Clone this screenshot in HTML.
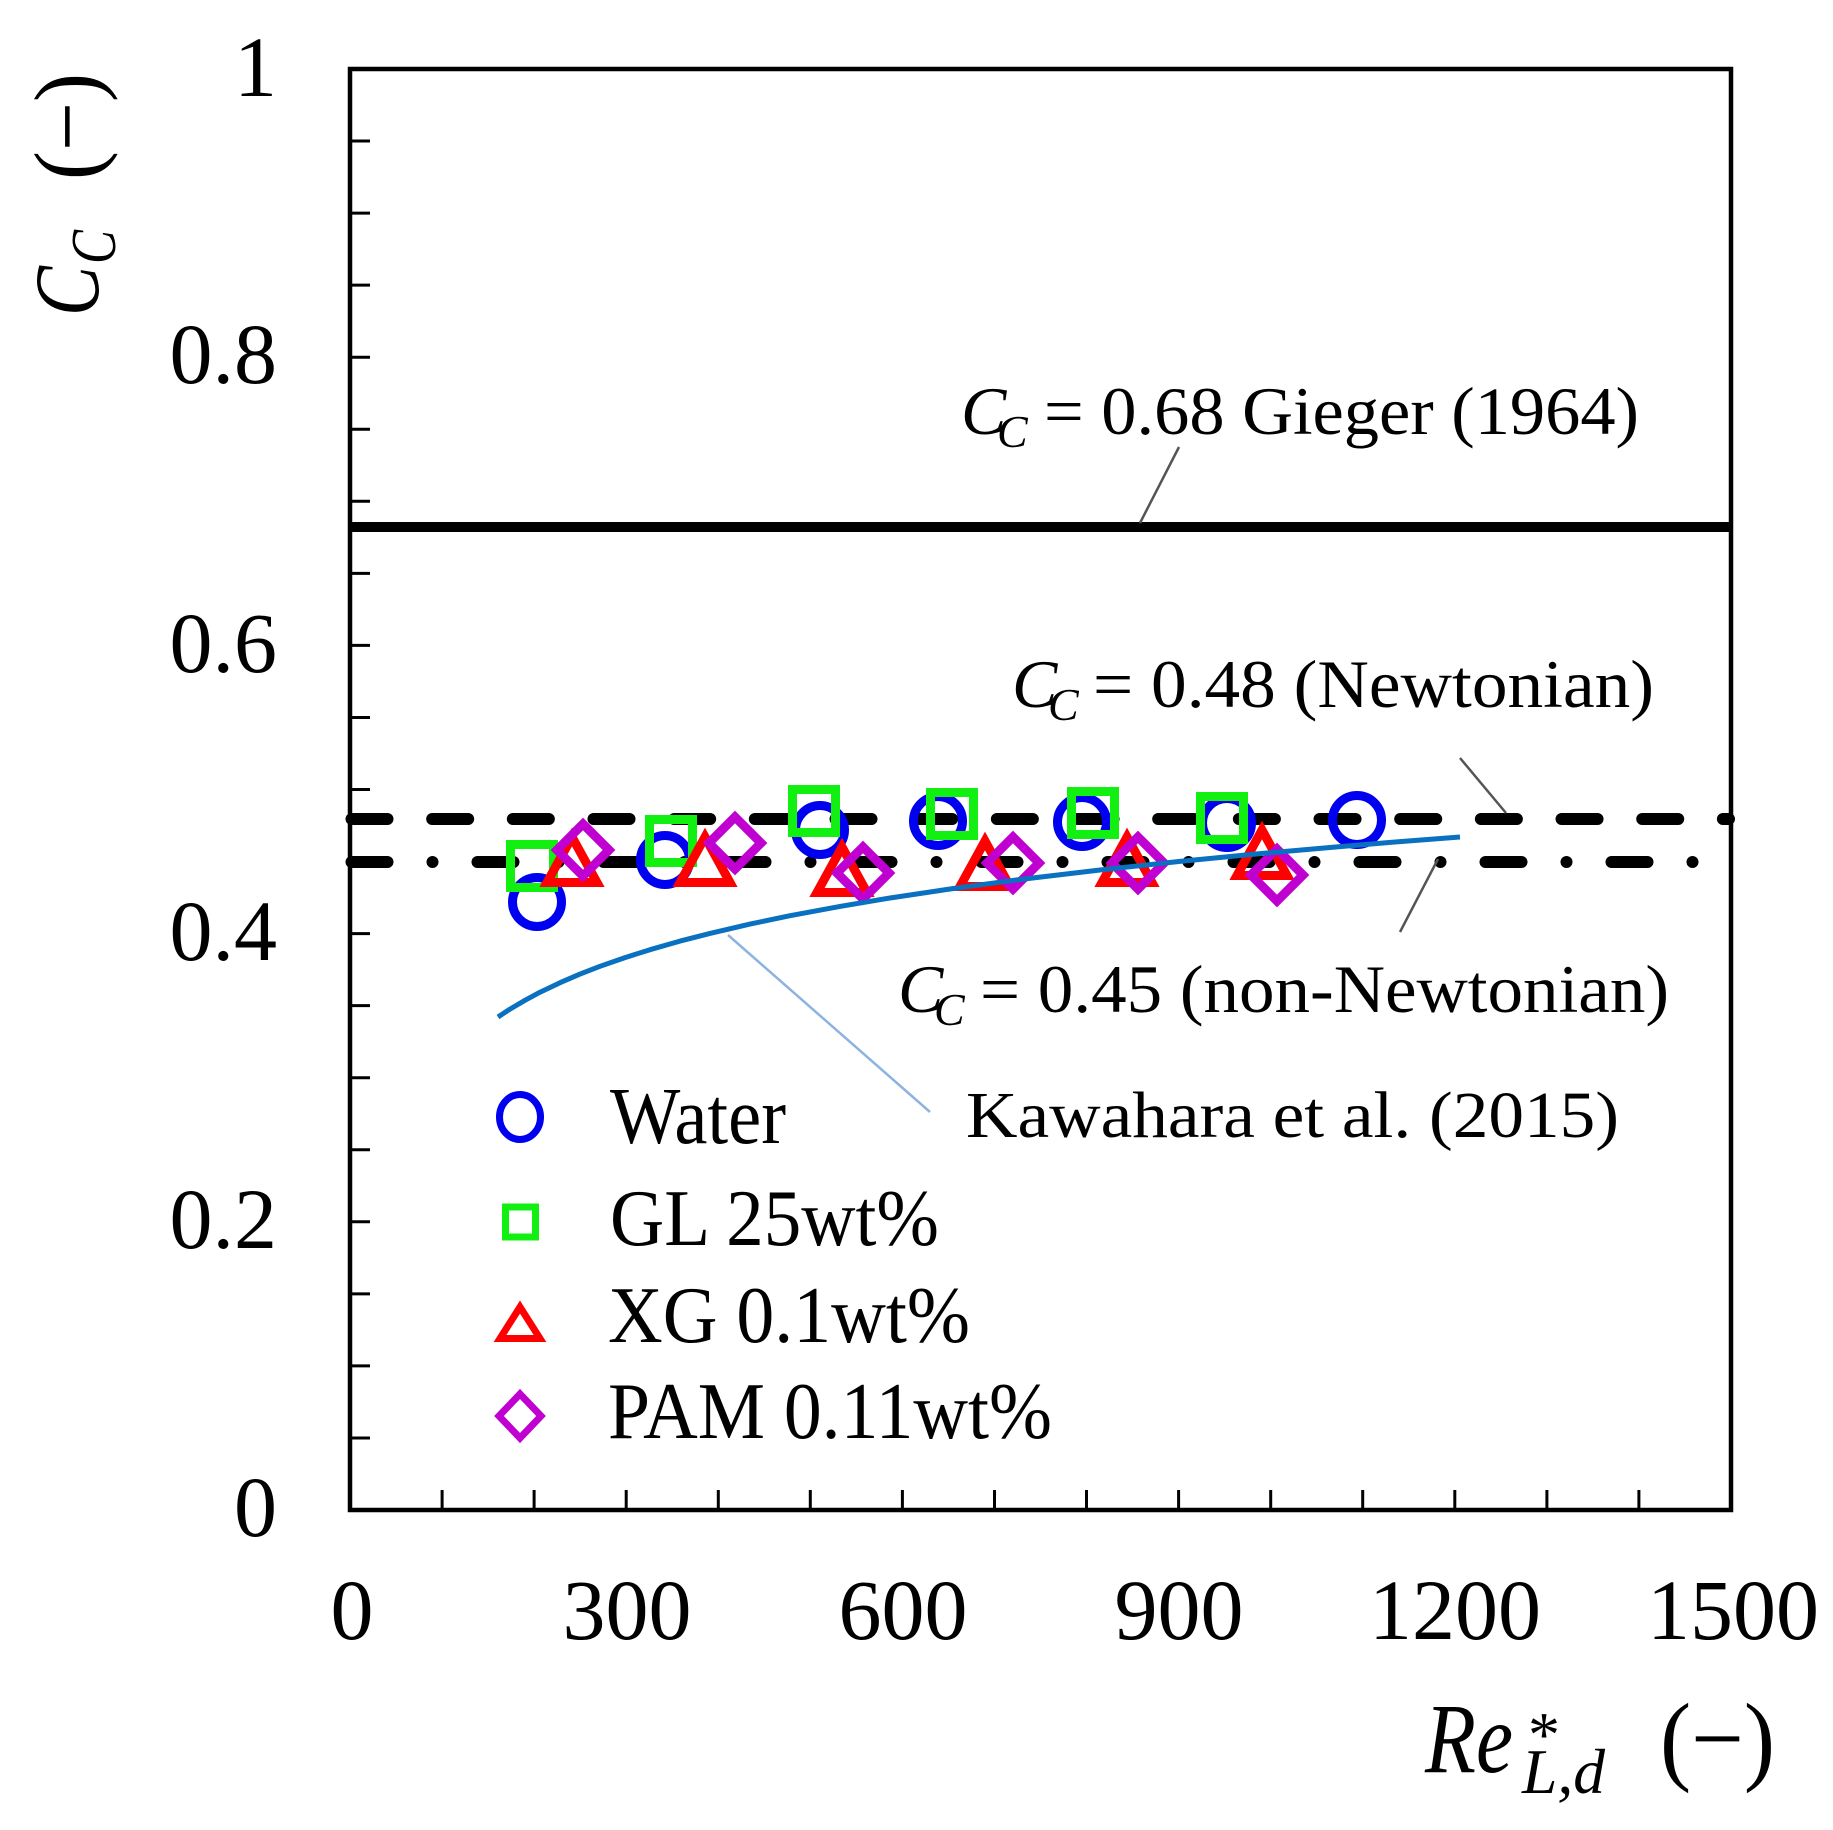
<!DOCTYPE html>
<html>
<head>
<meta charset="utf-8">
<style>
html,body{margin:0;padding:0;background:#fff;}
svg{display:block;}
text{font-family:"Liberation Serif","DejaVu Serif",serif;fill:#000;}
</style>
</head>
<body>
<svg width="1833" height="1830" viewBox="0 0 1833 1830" xmlns="http://www.w3.org/2000/svg">
<rect width="1833" height="1830" fill="#fff"/>

<!-- y ticks every 0.05 -->
<g stroke="#000" stroke-width="3">
<line x1="350" y1="1437.95" x2="370" y2="1437.95"/>
<line x1="350" y1="1365.9" x2="370" y2="1365.9"/>
<line x1="350" y1="1293.85" x2="370" y2="1293.85"/>
<line x1="350" y1="1221.8" x2="370" y2="1221.8"/>
<line x1="350" y1="1149.75" x2="370" y2="1149.75"/>
<line x1="350" y1="1077.7" x2="370" y2="1077.7"/>
<line x1="350" y1="1005.65" x2="370" y2="1005.65"/>
<line x1="350" y1="933.6" x2="370" y2="933.6"/>
<line x1="350" y1="861.55" x2="370" y2="861.55"/>
<line x1="350" y1="789.5" x2="370" y2="789.5"/>
<line x1="350" y1="717.45" x2="370" y2="717.45"/>
<line x1="350" y1="645.4" x2="370" y2="645.4"/>
<line x1="350" y1="573.35" x2="370" y2="573.35"/>
<line x1="350" y1="501.3" x2="370" y2="501.3"/>
<line x1="350" y1="429.25" x2="370" y2="429.25"/>
<line x1="350" y1="357.2" x2="370" y2="357.2"/>
<line x1="350" y1="285.15" x2="370" y2="285.15"/>
<line x1="350" y1="213.1" x2="370" y2="213.1"/>
<line x1="350" y1="141.05" x2="370" y2="141.05"/>
</g>
<!-- x ticks every 100 -->
<g stroke="#000" stroke-width="3">
<line x1="442.1" y1="1510" x2="442.1" y2="1490"/>
<line x1="534.1" y1="1510" x2="534.1" y2="1490"/>
<line x1="626.2" y1="1510" x2="626.2" y2="1490"/>
<line x1="718.3" y1="1510" x2="718.3" y2="1490"/>
<line x1="810.3" y1="1510" x2="810.3" y2="1490"/>
<line x1="902.4" y1="1510" x2="902.4" y2="1490"/>
<line x1="994.5" y1="1510" x2="994.5" y2="1490"/>
<line x1="1086.5" y1="1510" x2="1086.5" y2="1490"/>
<line x1="1178.6" y1="1510" x2="1178.6" y2="1490"/>
<line x1="1270.7" y1="1510" x2="1270.7" y2="1490"/>
<line x1="1362.7" y1="1510" x2="1362.7" y2="1490"/>
<line x1="1454.8" y1="1510" x2="1454.8" y2="1490"/>
<line x1="1546.9" y1="1510" x2="1546.9" y2="1490"/>
<line x1="1638.9" y1="1510" x2="1638.9" y2="1490"/>
</g>

<!-- frame -->
<rect x="350" y="69" width="1381" height="1441" fill="none" stroke="#000" stroke-width="4.5"/>

<!-- y tick labels -->
<g font-size="86" text-anchor="end">
<text x="277" y="1536">0</text>
<text x="277" y="1248">0.2</text>
<text x="277" y="960">0.4</text>
<text x="277" y="672">0.6</text>
<text x="277" y="383">0.8</text>
<text x="277" y="96">1</text>
</g>
<!-- x tick labels -->
<g font-size="86" text-anchor="middle">
<text x="352" y="1639">0</text>
<text x="627" y="1639">300</text>
<text x="903" y="1639">600</text>
<text x="1179" y="1639">900</text>
<text x="1455" y="1639">1200</text>
<text x="1733" y="1639">1500</text>
</g>

<!-- y axis title (rotated) -->
<g transform="translate(98,316) rotate(-90)">
<text x="0" y="0" font-size="92" font-style="italic" textLength="50" lengthAdjust="spacingAndGlyphs">C</text>
<text x="52" y="17" font-size="64" font-style="italic" textLength="34" lengthAdjust="spacingAndGlyphs">C</text>
<text x="136" y="0" font-size="92" textLength="107" lengthAdjust="spacingAndGlyphs">(−)</text>
</g>

<!-- x axis title -->
<text x="1425" y="1772" font-size="100" font-style="italic" textLength="88" lengthAdjust="spacingAndGlyphs">Re</text>
<text x="1528" y="1756" font-size="64">*</text>
<text x="1522" y="1793" font-size="64" font-style="italic" textLength="83" lengthAdjust="spacingAndGlyphs">L,d</text>
<text x="1660" y="1772" font-size="100" textLength="115" lengthAdjust="spacingAndGlyphs">(−)</text>

<!-- reference lines -->
<line x1="350" y1="527" x2="1731" y2="527" stroke="#000" stroke-width="10"/>
<line x1="351.5" y1="819" x2="1729" y2="819" stroke="#000" stroke-width="12" stroke-linecap="round" stroke-dasharray="36 44.67"/>
<line x1="351.5" y1="862" x2="1700.5" y2="862" stroke="#000" stroke-width="12" stroke-linecap="round" stroke-dasharray="36 45 0 45"/>

<!-- leader lines -->
<g stroke="#555" stroke-width="2.5" fill="none">
<line x1="1179" y1="447" x2="1140" y2="523"/>
<line x1="1460" y1="758" x2="1506" y2="813"/>
<line x1="1400" y1="932" x2="1438" y2="859"/>
</g>
<line x1="728" y1="935" x2="930" y2="1112" stroke="#8db3e2" stroke-width="2.5"/>

<!-- annotations -->
<text x="961" y="434" font-size="68" font-style="italic">C</text>
<text x="997" y="447" font-size="46" font-style="italic">C</text>
<text x="1044" y="434" font-size="68" textLength="595" lengthAdjust="spacingAndGlyphs">= 0.68 Gieger (1964)</text>

<text x="1012" y="707" font-size="68" font-style="italic">C</text>
<text x="1048" y="720" font-size="46" font-style="italic">C</text>
<text x="1093" y="707" font-size="68" textLength="561" lengthAdjust="spacingAndGlyphs">= 0.48 (Newtonian)</text>

<text x="898" y="1012" font-size="68" font-style="italic">C</text>
<text x="934" y="1025" font-size="46" font-style="italic">C</text>
<text x="980" y="1012" font-size="68" textLength="689" lengthAdjust="spacingAndGlyphs">= 0.45 (non-Newtonian)</text>

<text x="966" y="1137" font-size="66" textLength="653" lengthAdjust="spacingAndGlyphs">Kawahara et al. (2015)</text>

<!-- markers: Water -->
<g fill="none" stroke="#0000f0" stroke-width="9">
<circle cx="537" cy="902" r="24.5"/>
<circle cx="665" cy="860" r="24.5"/>
<circle cx="820" cy="830" r="24.5"/>
<circle cx="938" cy="821" r="24.5"/>
<circle cx="1082" cy="822" r="24.5"/>
<circle cx="1227" cy="823" r="24.5"/>
<circle cx="1357" cy="820" r="24.5"/>
</g>
<!-- GL -->
<g fill="none" stroke="#12f012" stroke-width="9">
<rect x="510.5" y="844.5" width="43" height="43"/>
<rect x="649.5" y="819.5" width="43" height="43"/>
<rect x="792.5" y="789.5" width="43" height="43"/>
<rect x="930.5" y="792.5" width="43" height="43"/>
<rect x="1071.5" y="791.5" width="43" height="43"/>
<rect x="1200.5" y="796.5" width="43" height="43"/>
</g>
<!-- XG -->
<g fill="none" stroke="#ff0000" stroke-width="9">
<polygon points="572,837 547,882.5 597,882.5"/>
<polygon points="705,837 680,882.5 730,882.5"/>
<polygon points="842,847 817,892.5 867,892.5"/>
<polygon points="985,841 960,886.5 1010,886.5"/>
<polygon points="1127,837 1102,882.5 1152,882.5"/>
<polygon points="1262,830 1237,875.5 1287,875.5"/>
</g>
<!-- PAM -->
<g fill="none" stroke="#c000d0" stroke-width="9">
<polygon points="583,824 609,850 583,876 557,850"/>
<polygon points="735,817 761,843 735,869 709,843"/>
<polygon points="863,847 889,873 863,899 837,873"/>
<polygon points="1013,837 1039,863 1013,889 987,863"/>
<polygon points="1138,837 1164,863 1138,889 1112,863"/>
<polygon points="1277,849 1303,875 1277,901 1251,875"/>
</g>

<!-- Kawahara curve -->
<polyline fill="none" stroke="#0a70c0" stroke-width="5" stroke-linejoin="round" stroke-linecap="butt"
 points="498,1017 510,1009.1 525,1000.3 540,992.2 560,982.7 580,974.1 600,966.3 625,957.6 650,949.7 680,941.1 710,933.4 750,924.1 790,915.7 840,906.4 890,898 950,889 1020,879.5 1100,870 1180,861.4 1260,853.6 1340,846.6 1400,841.6 1460,837"/>

<!-- legend -->
<ellipse cx="520" cy="1117" rx="20.5" ry="22.5" fill="none" stroke="#0000f0" stroke-width="7"/>
<rect x="505.5" y="1207" width="30" height="30" fill="none" stroke="#12f012" stroke-width="7"/>
<polygon points="520,1307 500,1338.5 540,1338.5" fill="none" stroke="#ff0000" stroke-width="7"/>
<polygon points="520,1394 541,1416 520,1438 499,1416" fill="none" stroke="#c000d0" stroke-width="7"/>

<g font-size="80">
<text x="610" y="1143" textLength="176" lengthAdjust="spacingAndGlyphs">Water</text>
<text x="610" y="1245" textLength="329" lengthAdjust="spacingAndGlyphs">GL 25wt%</text>
<text x="608" y="1342" textLength="362" lengthAdjust="spacingAndGlyphs">XG 0.1wt%</text>
<text x="608" y="1438" textLength="444" lengthAdjust="spacingAndGlyphs">PAM 0.11wt%</text>
</g>
</svg>
</body>
</html>
